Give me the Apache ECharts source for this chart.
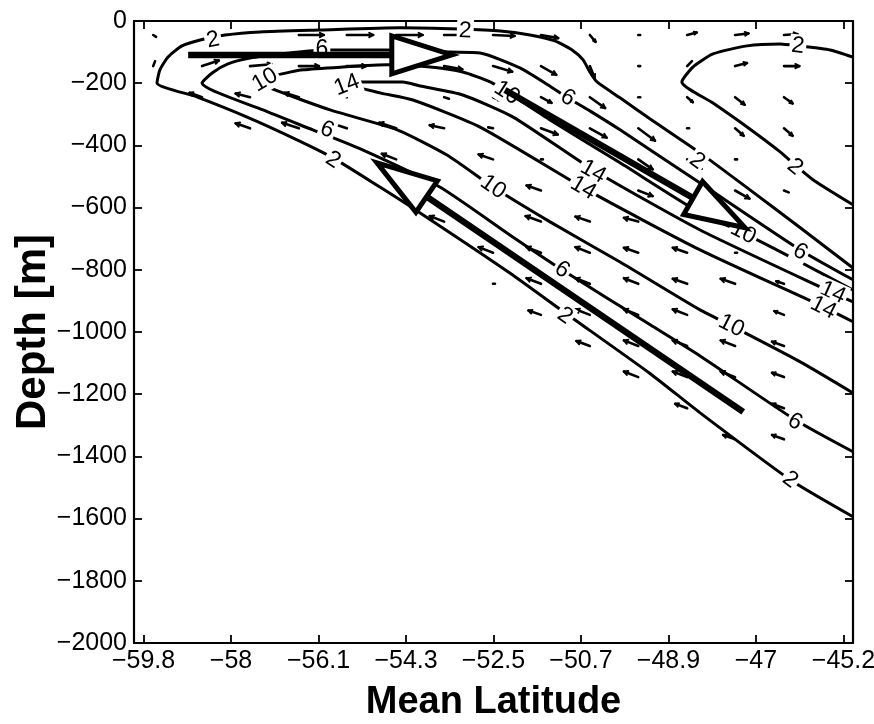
<!DOCTYPE html>
<html>
<head>
<meta charset="utf-8">
<script src="https://cdn.jsdelivr.net/npm/echarts@6/dist/echarts.min.js"></script>
<style>
  html, body { margin: 0; padding: 0; background: #fff; }
  #chart { width: 874px; height: 724px; }
</style>
</head>
<body>
<div id="chart"></div>
<script>
// Streamfunction contours (Sv) along the slope section: [mean latitude, depth m]
const CONTOUR_2_MAIN = [
  [-45.00,-794],[-46.10,-665],[-47.15,-543],[-48.19,-424],[-49.23,-315],[-49.86,-247],
  [-50.34,-196],[-50.49,-164],[-50.63,-125],[-50.86,-93],[-51.22,-64],[-51.74,-45],
  [-52.36,-32],[-53.20,-26],[-54.45,-22],[-56.12,-29],[-57.37,-35],[-58.10,-45],
  [-58.62,-61],[-59.00,-80],[-59.29,-116],[-59.46,-157],[-59.52,-199],
  [-58.69,-244],[-57.64,-309],[-56.60,-382],[-55.85,-440],[-54.87,-534],[-54.03,-617],
  [-52.16,-810],[-51.01,-938],[-49.23,-1134],[-48.19,-1260],[-46.31,-1475],[-45.00,-1594]
];
const CONTOUR_6 = [
  [-45.00,-832],[-46.10,-736],[-48.19,-521],[-49.86,-350],[-50.49,-289],[-50.95,-247],
  [-51.36,-206],[-51.95,-151],[-52.78,-103],[-53.41,-100],[-54.45,-93],[-56.08,-93],
  [-56.75,-103],[-57.58,-119],[-58.04,-138],[-58.37,-167],[-58.58,-199],
  [-57.31,-286],[-56.27,-350],[-55.22,-415],[-53.62,-534],[-52.16,-688],[-51.07,-800],
  [-49.23,-977],[-48.19,-1077],[-46.21,-1282],[-45.00,-1385]
];
const CONTOUR_10 = [
  [-45.00,-865],[-46.10,-775],[-47.29,-681],[-48.19,-617],[-49.86,-456],[-51.32,-318],
  [-52.22,-228],[-52.57,-196],[-53.14,-164],[-53.82,-148],[-54.72,-141],[-55.64,-148],
  [-56.47,-157],[-57.02,-174],[-57.27,-196],
  [-57.16,-215],[-55.91,-286],[-54.51,-350],[-53.47,-431],[-52.51,-534],[-51.32,-646],
  [-49.86,-775],[-48.19,-929],[-47.50,-983],[-46.10,-1096],[-45.00,-1196]
];
const CONTOUR_14 = [
  [-45.00,-903],[-45.42,-874],[-48.19,-672],[-50.42,-479],[-52.09,-309],[-53.14,-238],
  [-54.03,-209],[-54.39,-196],[-55.28,-196],[-55.45,-206],
  [-54.87,-231],[-54.18,-254],[-52.78,-341],[-50.55,-543],[-48.19,-736],[-45.62,-919],[-45.00,-967]
];
const CONTOUR_2_EAST = [
  [-45.00,-116],[-45.48,-93],[-46.15,-80],[-46.52,-74],[-47.21,-80],[-47.92,-106],
  [-48.34,-148],[-48.57,-196],
  [-47.92,-264],[-47.21,-341],[-46.52,-421],[-46.21,-463],[-45.83,-511],[-45.00,-591]
];
const CONTOURS = [
  { level: 2, path: CONTOUR_2_MAIN },
  { level: 6, path: CONTOUR_6 },
  { level: 10, path: CONTOUR_10 },
  { level: 14, path: CONTOUR_14 },
  { level: 2, path: CONTOUR_2_EAST }
];

// Inline contour labels: [lat, depth, level]
const CONTOUR_LABELS = [
  [-58.35,-61,2],[-53.09,-32,2],[-48.25,-450,2],[-46.15,-80,2],[-46.21,-469,2],
  [-55.85,-447,2],[-51.01,-948,2],[-46.31,-1475,2],
  [-56.08,-93,6],[-50.95,-247,6],[-46.10,-742,6],[-55.97,-350,6],[-51.07,-800,6],[-46.21,-1289,6],
  [-57.27,-190,10],[-52.22,-231,10],[-47.29,-681,10],[-52.51,-534,10],[-47.54,-980,10],
  [-55.56,-206,14],[-50.42,-485,14],[-45.42,-874,14],[-50.63,-537,14],[-45.62,-922,14]
];

// Velocity vectors: [lat, depth, dLat, dDepth]
const VELOCITY = [
  [-59.60,-45,0.06,-6],[-56.56,-45,0.52,0],[-55.56,-45,0.55,0],[-54.53,-45,0.55,0],[-53.53,-45,0.5,0],
  [-52.51,-45,0.45,-3],[-51.51,-45,0.36,-10],[-50.49,-45,0.12,-22],[-49.48,-45,0.04,0],[-48.46,-45,0.2,8],
  [-47.46,-45,0.28,5],[-46.44,-45,0.28,3],
  [-59.60,-145,0.04,16],[-58.58,-145,0.35,18],[-57.58,-145,0.45,6],[-56.56,-145,0.42,0],[-55.56,-145,0.4,0],
  [-54.53,-145,0.4,0],[-53.53,-145,0.38,-10],[-52.51,-145,0.4,-18],[-51.51,-145,0.32,-28],[-50.49,-145,0.1,-38],
  [-49.48,-145,0.04,0],[-48.46,-145,0.1,16],[-47.46,-145,0.25,10],[-46.44,-145,0.32,0],
  [-58.58,-245,-0.26,14],[-57.58,-245,-0.3,12],[-56.56,-245,-0.3,14],[-55.56,-245,-0.22,12],[-53.53,-245,0.1,-5],
  [-52.51,-245,0.15,-10],[-51.51,-245,0.22,-18],[-50.49,-245,0.32,-35],[-49.48,-245,0.04,0],[-48.46,-245,0.12,-16],
  [-47.46,-245,0.2,-24],[-46.44,-245,0.18,-20],
  [-57.58,-345,-0.3,16],[-56.56,-345,-0.35,18],[-55.56,-345,-0.35,18],[-54.53,-345,-0.35,18],[-53.53,-345,-0.3,10],
  [-52.51,-345,-0.1,3],[-51.51,-345,0.35,-20],[-50.49,-345,0.35,-30],[-49.48,-345,0.35,-40],[-48.46,-345,0.04,0],
  [-47.46,-345,0.18,-24],[-46.44,-345,0.18,-24],
  [-54.53,-445,-0.3,18],[-52.51,-445,-0.3,16],[-51.51,-445,0.04,0],[-50.49,-445,0.12,-10],[-49.48,-445,0.3,-32],
  [-48.46,-445,0.3,-30],[-47.46,-445,0.04,0],
  [-51.51,-545,-0.3,16],[-49.48,-545,0.3,-18],[-47.46,-545,0.3,-26],[-46.44,-545,0.1,-6],
  [-53.53,-645,-0.3,18],[-51.51,-645,-0.32,18],[-50.49,-645,-0.3,16],[-49.48,-645,-0.3,12],[-47.46,-645,0.38,-26],
  [-52.51,-745,-0.3,18],[-51.51,-745,-0.3,18],[-50.49,-745,-0.3,18],[-49.48,-745,-0.3,16],[-48.46,-745,-0.3,16],
  [-47.46,-745,0.04,0],
  [-52.51,-845,0.04,0],[-51.51,-845,-0.3,18],[-50.49,-845,-0.3,18],[-49.48,-845,-0.3,18],[-48.46,-845,-0.3,16],
  [-47.46,-845,-0.3,16],[-46.44,-845,-0.16,8],
  [-51.51,-945,-0.26,14],[-50.49,-945,-0.3,18],[-49.48,-945,-0.3,18],[-48.46,-945,-0.3,18],[-46.44,-945,-0.2,12],
  [-50.49,-1045,-0.28,16],[-49.48,-1045,-0.3,18],[-48.46,-1045,-0.3,18],[-47.46,-1045,-0.3,18],[-46.44,-1045,-0.25,14],
  [-49.48,-1145,-0.3,18],[-48.46,-1145,-0.3,18],[-47.46,-1145,-0.3,18],[-46.44,-1145,-0.25,14],
  [-48.46,-1245,-0.25,14],[-46.44,-1245,-0.25,14],
  [-47.46,-1345,-0.25,14],[-46.44,-1345,-0.25,14]
];

// Schematic circulation arrows: [tailLat, tailDepth, tipLat, tipDepth]
const FLOW_ARROWS = [
  [-58.87,-109,-53.37,-109],
  [-52.26,-222,-47.25,-665],
  [-47.29,-1257,-54.93,-456]
];

// Axis ticks
const X_TICKS = [-59.8,-57.975,-56.15,-54.325,-52.5,-50.675,-48.85,-47.025,-45.2];
const X_TICK_LABELS = ['\u221259.8','\u221258','\u221256.1','\u221254.3','\u221252.5','\u221250.7','\u221248.9','\u221247','\u221245.2'];

const FONT = '"Liberation Sans", Arial, Helvetica, sans-serif';

function segDist(p, a, b) {
  const dx = b[0] - a[0], dy = b[1] - a[1];
  const l2 = dx * dx + dy * dy || 1;
  let t = ((p[0] - a[0]) * dx + (p[1] - a[1]) * dy) / l2;
  t = Math.max(0, Math.min(1, t));
  const qx = a[0] + t * dx, qy = a[1] + t * dy;
  return Math.hypot(p[0] - qx, p[1] - qy);
}

function renderLabel(params, api) {
  const level = api.value(2);
  const p = api.coord([api.value(0), api.value(1)]);
  let best = null, bestD = Infinity;
  CONTOURS.forEach(c => {
    if (c.level !== level) return;
    for (let i = 0; i < c.path.length - 1; i++) {
      const a = api.coord(c.path[i]), b = api.coord(c.path[i + 1]);
      const d = segDist(p, a, b);
      if (d < bestD) { bestD = d; best = [a, b]; }
    }
  });
  let ang = Math.atan2(best[1][1] - best[0][1], best[1][0] - best[0][0]);
  if (ang > Math.PI / 2) ang -= Math.PI;
  if (ang < -Math.PI / 2) ang += Math.PI;
  return {
    type: 'text',
    x: p[0], y: p[1],
    rotation: -ang,
    style: {
      text: String(level),
      x: 0, y: 0,
      align: 'center', verticalAlign: 'middle',
      font: '23px ' + FONT,
      fill: '#000',
      backgroundColor: '#fff',
      padding: [0, 2]
    }
  };
}

function renderVector(params, api) {
  const a = api.coord([api.value(0), api.value(1)]);
  const b = api.coord([api.value(0) + api.value(2), api.value(1) + api.value(3)]);
  const dx = b[0] - a[0], dy = b[1] - a[1];
  const len = Math.hypot(dx, dy);
  const st = { stroke: '#000', lineWidth: 2.6, lineCap: 'round' };
  const children = [{ type: 'line', shape: { x1: a[0], y1: a[1], x2: b[0], y2: b[1] }, style: st }];
  if (len > 7) {
    const h = Math.min(4.5, len * 0.3);
    const ang = Math.atan2(dy, dx);
    [-1, 1].forEach(s => {
      const t = ang + Math.PI + s * 0.5;
      children.push({ type: 'line', shape: { x1: b[0], y1: b[1], x2: b[0] + h * Math.cos(t), y2: b[1] + h * Math.sin(t) }, style: { stroke: '#000', lineWidth: 2, lineCap: 'round' } });
    });
  }
  return { type: 'group', children };
}

function renderFlowArrow(params, api) {
  const a = api.coord([api.value(0), api.value(1)]);
  const b = api.coord([api.value(2), api.value(3)]);
  const dx = b[0] - a[0], dy = b[1] - a[1];
  const len = Math.hypot(dx, dy);
  const ux = dx / len, uy = dy / len;
  const nx = -uy, ny = ux;
  const headLen = 60, halfW = 19;
  const bx = b[0] - ux * headLen, by = b[1] - uy * headLen;
  return {
    type: 'group',
    children: [
      { type: 'line', shape: { x1: a[0], y1: a[1], x2: bx, y2: by },
        style: { stroke: '#000', lineWidth: 6.5 } },
      { type: 'polygon', shape: { points: [[b[0], b[1]], [bx + nx * halfW, by + ny * halfW], [bx - nx * halfW, by - ny * halfW]] },
        style: { fill: '#fff', stroke: '#000', lineWidth: 5, lineJoin: 'miter' } }
    ]
  };
}

const axisLine = { show: true, onZero: false, lineStyle: { color: '#000', width: 2.2 } };
const tickStyle = { color: '#000', width: 1.8 };

const option = {
  animation: false,
  backgroundColor: '#fff',
  grid: { left: 134, top: 21, width: 719, height: 622, containLabel: false, outerBoundsMode: 'none' },
  xAxis: [
    {
      type: 'value', min: -60, max: -45, position: 'bottom',
      axisLine,
      axisTick: { show: true, inside: true, length: 8, customValues: X_TICKS, lineStyle: tickStyle },
      axisLabel: {
        customValues: X_TICKS, margin: 6, color: '#000', fontSize: 25, fontFamily: FONT,
        formatter: v => {
          let k = 0, d = Infinity;
          X_TICKS.forEach((t, i) => { if (Math.abs(t - v) < d) { d = Math.abs(t - v); k = i; } });
          return X_TICK_LABELS[k];
        }
      },
      splitLine: { show: false },
      name: 'Mean Latitude', nameLocation: 'middle', nameGap: 41, nameMoveOverlap: false,
      nameTextStyle: { fontSize: 38, fontWeight: 'bold', color: '#000', fontFamily: FONT }
    },
    {
      type: 'value', min: -60, max: -45, position: 'top',
      axisLine,
      axisTick: { show: true, inside: true, length: 8, customValues: X_TICKS, lineStyle: tickStyle },
      axisLabel: { show: false },
      splitLine: { show: false }
    }
  ],
  yAxis: [
    {
      type: 'value', min: -2000, max: 0, interval: 200, position: 'left',
      axisLine,
      axisTick: { show: true, inside: true, length: 8, lineStyle: tickStyle },
      axisLabel: {
        margin: 7, color: '#000', fontSize: 25, fontFamily: FONT,
        formatter: v => (v < 0 ? '\u2212' + (-v) : String(v))
      },
      splitLine: { show: false },
      name: 'Depth [m]', nameLocation: 'middle', nameGap: 80, nameMoveOverlap: false,
      nameTextStyle: { fontSize: 42, fontWeight: 'bold', color: '#000', fontFamily: FONT }
    },
    {
      type: 'value', min: -2000, max: 0, interval: 200, position: 'right',
      axisLine,
      axisTick: { show: true, inside: true, length: 8, lineStyle: tickStyle },
      axisLabel: { show: false },
      splitLine: { show: false }
    }
  ],
  series: [
    ...CONTOURS.map(c => ({
      type: 'line', data: c.path, xAxisIndex: 0, yAxisIndex: 0,
      symbol: 'none', smooth: 0.2, silent: true, z: 2,
      lineStyle: { color: '#000', width: 3 }
    })),
    {
      type: 'custom', data: VELOCITY, xAxisIndex: 0, yAxisIndex: 0,
      renderItem: renderVector, silent: true, z: 3
    },
    {
      type: 'custom', data: CONTOUR_LABELS, xAxisIndex: 0, yAxisIndex: 0,
      renderItem: renderLabel, silent: true, z: 4
    },
    {
      type: 'custom', data: FLOW_ARROWS, xAxisIndex: 0, yAxisIndex: 0,
      renderItem: renderFlowArrow, silent: true, z: 5
    }
  ]
};

const chart = echarts.init(document.getElementById('chart'));
chart.setOption(option);
</script>
</body>
</html>
